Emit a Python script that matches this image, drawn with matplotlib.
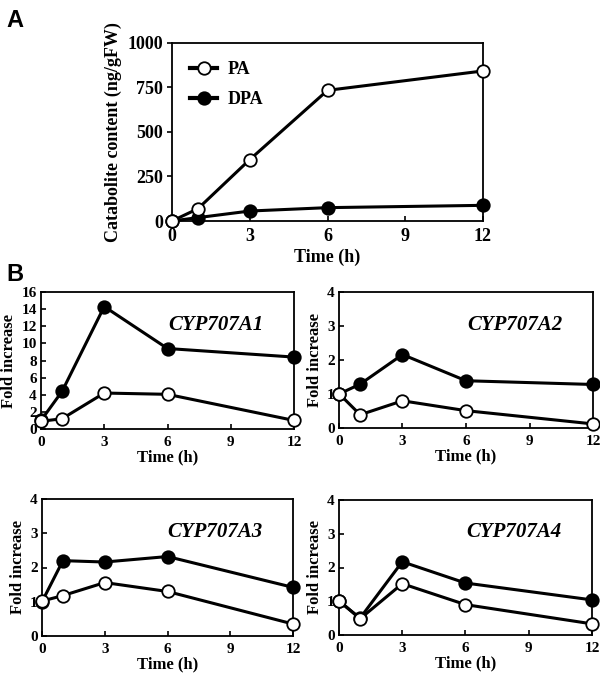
import matplotlib
matplotlib.use("Agg")
import matplotlib.pyplot as plt
from matplotlib.lines import Line2D

plt.rcParams['font.family'] = ['Liberation Serif', 'DejaVu Serif']
plt.rcParams['font.weight'] = 'bold'

# ---- data ----
time_a = [0, 1, 3, 6, 12]
pa = [0, 69, 345, 734, 843]
dpa = [0, 19, 56, 75, 88]

time_b = [0, 1, 3, 6, 12]
genes = ["CYP707A1", "CYP707A2", "CYP707A3", "CYP707A4"]
filled_vals = [
    [1.0, 4.4, 14.3, 9.4, 8.4],
    [1.0, 1.29, 2.16, 1.39, 1.28],
    [1.0, 2.2, 2.16, 2.32, 1.42],
    [1.0, 0.5, 2.17, 1.54, 1.04],
]
open_vals = [
    [0.9, 1.2, 4.2, 4.05, 1.0],
    [1.01, 0.39, 0.80, 0.51, 0.12],
    [1.02, 1.18, 1.56, 1.30, 0.35],
    [1.02, 0.48, 1.52, 0.90, 0.33],
]
ylims = [16, 4, 4, 4]
yticks_b = [list(range(0, 17, 2)), [0, 1, 2, 3, 4], [0, 1, 2, 3, 4], [0, 1, 2, 3, 4]]
xticks = [0, 3, 6, 9, 12]

W, H = 600, 675
fig = plt.figure(figsize=(6, 6.75), dpi=100)

def rect(x0, y0, x1, y1):
    return [x0 / W, 1 - y1 / H, (x1 - x0) / W, (y1 - y0) / H]

lw = 2.2
ms = 9

def style(ax, fs, pad):
    for s in ax.spines.values():
        s.set_linewidth(1.3)
    ax.tick_params(direction='in', length=3.5, width=1.2, labelsize=fs, pad=pad)
    for lab in ax.get_xticklabels() + ax.get_yticklabels():
        lab.set_fontweight('bold')

# ---- Panel A ----
axA = fig.add_axes(rect(172, 43, 483, 221))
axA.plot(time_a, dpa, '-o', color='black', lw=lw, ms=ms, mfc='black', mec='black',
         mew=1.3, clip_on=False, zorder=3)
axA.plot(time_a, pa, '-o', color='black', lw=lw, ms=ms, mfc='white', mec='black',
         mew=1.3, clip_on=False, zorder=4)
axA.set_xlim(0, 12)
axA.set_ylim(0, 1000)
axA.set_xticks(xticks)
axA.set_yticks([0, 250, 500, 750, 1000])
style(axA, 13, 5)
axA.tick_params(axis='y', direction='out', pad=3)
axA.set_xlabel('Time (h)', fontsize=13, fontweight='bold', labelpad=3)
axA.set_ylabel('Catabolite content (ng/gFW)', fontsize=13, fontweight='bold', labelpad=4)
handles = [
    Line2D([0], [0], color='black', lw=3, marker='o', ms=ms, mfc='white', mec='black', mew=1.3),
    Line2D([0], [0], color='black', lw=3, marker='o', ms=ms, mfc='black', mec='black', mew=1.3),
]
axA.legend(handles, ['PA', 'DPA'], loc='upper left', bbox_to_anchor=(0.035, 0.94),
           frameon=False, handlelength=1.5, handletextpad=0.6, labelspacing=0.75,
           borderaxespad=0.0,
           prop={'family': 'Liberation Serif', 'weight': 'bold', 'size': 13})

fig.text(6 / W, 1 - 27 / H, 'A', fontsize=17, fontweight='bold', family='Liberation Sans')
fig.text(6 / W, 1 - 281 / H, 'B', fontsize=17, fontweight='bold', family='Liberation Sans')

# ---- Panel B ----
rects = [
    rect(41, 292, 294, 429),
    rect(339, 292, 593, 428),
    rect(42, 499, 293, 636),
    rect(339, 500, 592, 635),
]
for i in range(4):
    ax = fig.add_axes(rects[i])
    ax.plot(time_b, filled_vals[i], '-o', color='black', lw=lw, ms=ms, mfc='black',
            mec='black', mew=1.3, clip_on=False, zorder=3)
    ax.plot(time_b, open_vals[i], '-o', color='black', lw=lw, ms=ms, mfc='white',
            mec='black', mew=1.3, clip_on=False, zorder=4)
    ax.set_xlim(0, 12)
    ax.set_ylim(0, ylims[i])
    ax.set_xticks(xticks)
    ax.set_yticks(yticks_b[i])
    style(ax, 11, 5)
    ax.tick_params(axis='y', pad=3)
    ax.set_xlabel('Time (h)', fontsize=12, fontweight='bold', labelpad=0)
    ax.set_ylabel('Fold increase', fontsize=12, fontweight='bold', labelpad=3)
    ax.text(0.88, 0.76, genes[i], transform=ax.transAxes, ha='right', va='center',
            fontsize=15, fontweight='bold', fontstyle='italic')

fig.savefig('out.png', dpi=100)
